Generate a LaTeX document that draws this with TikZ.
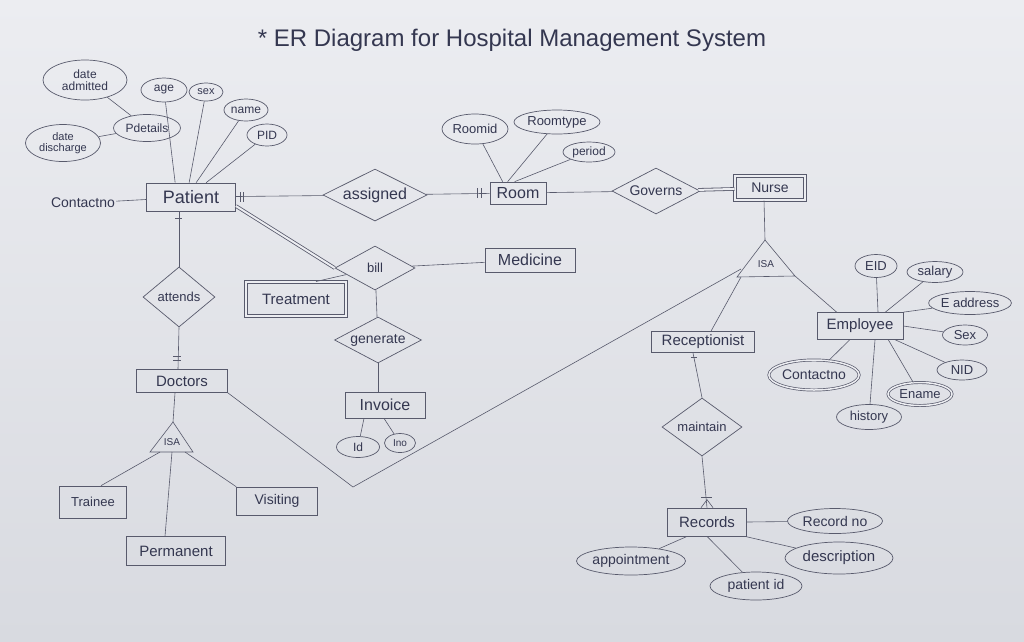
\documentclass[tikz,border=0pt]{standalone}
\usepackage{fontspec}
\setmainfont{Liberation Sans}
\usetikzlibrary{shapes.geometric,calc}
\definecolor{paperTop}{RGB}{236,237,241}
\definecolor{paperBot}{RGB}{216,218,224}
\definecolor{ln}{RGB}{88,90,108}
\definecolor{tx}{RGB}{52,55,80}
\newcommand\fsz[1]{\fontsize{#1}{#1}\selectfont}
\tikzset{
  ent/.style={draw=ln, rectangle, inner sep=1pt, text=tx, line width=0.7pt, font=\fsz{15}},
  attr/.style={draw=ln, ellipse, inner sep=0pt, text=tx, line width=0.7pt, font=\fsz{12}},
  rel/.style={draw=ln, diamond, aspect=2, inner sep=0pt, text=tx, line width=0.7pt, font=\fsz{13}},
  dblent/.style={draw=ln, line width=1pt, double=paperTop, double distance=2pt},
  dbl/.style={draw=ln, double=paperTop, double distance=2pt, line width=0.8pt},
  plain/.style={text=tx, inner sep=1pt},
  conn/.style={draw=ln, line width=0.6pt}
}
\begin{document}
\begin{tikzpicture}[x=1pt,y=-1pt]
\shade[top color=paperTop,bottom color=paperBot] (0,0) rectangle (1024,641);
\useasboundingbox (0,0) rectangle (1024,641);

% title
\node[plain, font=\fsz{24}] (title) at (512,40) {* ER Diagram for Hospital Management System};

% Patient cluster
\node[ent, minimum width=89pt, minimum height=28pt, font=\fsz{18}] (patient) at (191,197) {Patient};
\node[attr, minimum width=84pt, minimum height=40pt, align=center] (dadm) at (85,80) {date\\admitted};
\node[attr, minimum width=75pt, minimum height=37pt, align=center, font=\fsz{11}] (ddis) at (63,143) {date\\discharge};
\node[attr, minimum width=67pt, minimum height=27pt] (pdet) at (147,128) {Pdetails};
\node[attr, minimum width=46pt, minimum height=24pt] (age) at (164,90) {age};
\node[attr, minimum width=34pt, minimum height=18pt, font=\fsz{11}] (psex) at (206,92) {sex};
\node[attr, minimum width=44pt, minimum height=22pt] (pname) at (246,110) {name};
\node[attr, minimum width=40pt, minimum height=22pt] (pid) at (267,135) {PID};
\node[plain, font=\fsz{14}] (pcontact) at (83,203) {Contactno};

\draw[conn] (dadm) -- (pdet);
\draw[conn] (ddis) -- (pdet);
\draw[conn] (age) -- ([xshift=29pt]patient.north west);
\draw[conn] (psex) -- ([xshift=43pt]patient.north west);
\draw[conn] (pname) -- ([xshift=50pt]patient.north west);
\draw[conn] (pid) -- ([xshift=60pt]patient.north west);
\draw[conn] (pcontact) -- (patient);

% Room cluster
\node[ent, minimum width=56pt, minimum height=22pt, font=\fsz{16}] (room) at (518,193) {Room};
\node[attr, minimum width=66pt, minimum height=30pt, font=\fsz{13}] (roomid) at (475,129) {Roomid};
\node[attr, minimum width=86pt, minimum height=24pt, font=\fsz{13}] (roomtype) at (557,122) {Roomtype};
\node[attr, minimum width=52pt, minimum height=20pt] (period) at (589,152) {period};
\draw[conn] (roomid) -- ([xshift=13pt]room.north west);
\draw[conn] (roomtype) -- ([xshift=18pt]room.north west);
\draw[conn] (period) -- ([xshift=25pt]room.north west);

% assigned
\node[rel, minimum width=104pt, minimum height=52pt, font=\fsz{16}] (assigned) at (375,195) {assigned};
\draw[conn] (patient) -- (assigned);
\draw[conn] (assigned) -- (room);
\draw[conn] ($(patient.east)+(4,-5)$) -- ($(patient.east)+(4,5)$);
\draw[conn] ($(patient.east)+(7,-5)$) -- ($(patient.east)+(7,5)$);
\draw[conn] ($(room.west)+(-12,-5)$) -- ($(room.west)+(-12,5)$);
\draw[conn] ($(room.west)+(-8,-5)$) -- ($(room.west)+(-8,5)$);

% Governs / Nurse
\node[rel, minimum width=88pt, minimum height=46pt, font=\fsz{14}] (governs) at (656,191) {Governs};
\node[ent, dblent, minimum width=70pt, minimum height=24pt, font=\fsz{14}] (nurse) at (770,188) {Nurse};
\draw[conn] (room) -- (governs);
\draw[dbl] (governs) -- (nurse);

% bill / Medicine / Treatment
\node[rel, minimum width=80pt, minimum height=44pt] (bill) at (375,268) {bill};
\node[ent, minimum width=90pt, minimum height=24pt, font=\fsz{16}] (medicine) at (530,260) {Medicine};
\node[ent, dblent, minimum width=100pt, minimum height=34pt, font=\fsz{15}] (treat) at (296,299) {Treatment};
\draw[conn] (bill) -- (medicine);
\draw[dbl] ($(patient.east)+(0,9)$) -- (bill.west);
\draw[conn] ($(treat.north)+(20,0)$) -- (bill);

% generate / Invoice
\node[rel, minimum width=87pt, minimum height=46pt, font=\fsz{14}] (generate) at (378,340) {generate};
\node[ent, minimum width=80pt, minimum height=26pt, font=\fsz{16}] (invoice) at (385,405) {Invoice};
\node[attr, minimum width=43pt, minimum height=21pt] (iid) at (358,447) {Id};
\node[attr, minimum width=31pt, minimum height=19pt, font=\fsz{10}] (ino) at (400,443) {Ino};
\draw[conn] (bill) -- (generate);
\draw[conn] (generate.south) -- ($(invoice.north)+(-7,0)$);
\draw[conn] ($(invoice.south)+(-21,0)$) -- (iid);
\draw[conn] ($(invoice.south)+(-1,0)$) -- (ino);

% attends / Doctors
\node[rel, minimum width=72pt, minimum height=60pt] (attends) at (179,297) {attends};
\node[ent, minimum width=91pt, minimum height=23pt] (doctors) at (182,381) {Doctors};
\draw[conn] ($(patient.south)+(-12,0)$) -- (attends.north);
\draw[conn] (175,218) -- (182,218);
\draw[conn] (attends.south) -- ($(doctors.north)+(-4,0)$);
\draw[conn] (173,356) -- (181,356);
\draw[conn] (173,360) -- (181,360);

% ISA (doctors)
\coordinate (i1a) at (173,422);
\coordinate (i1l) at (150,452);
\coordinate (i1r) at (193,452);
\draw[conn] (i1a) -- (i1l) -- (i1r) -- cycle;
\node[plain, font=\fsz{10}] (isa1) at (172,442) {ISA};
\coordinate (i1b1) at (160,452);
\coordinate (i1b2) at (172,452);
\coordinate (i1b3) at (185,452);
\draw[conn] ($(doctors.south)+(-7,0)$) -- (i1a);
\node[ent, minimum width=67pt, minimum height=32pt, font=\fsz{13}] (trainee) at (93,502) {Trainee};
\node[ent, minimum width=99pt, minimum height=29pt] (permanent) at (176,551) {Permanent};
\node[ent, minimum width=81pt, minimum height=28pt, font=\fsz{14}] (visiting) at (277,501) {Visiting};
\draw[conn] (i1b1) -- ($(trainee.north)+(8,0)$);
\draw[conn] (i1b2) -- ($(permanent.north)+(-11,0)$);
\draw[conn] (i1b3) -- (visiting.north west);

% ISA (nurse)
\coordinate (i2a) at (765,240);
\coordinate (i2l) at (737,277);
\coordinate (i2r) at (795,276);
\draw[conn] (i2a) -- (i2l) -- (i2r) -- cycle;
\node[plain, font=\fsz{10}] (isa2) at (766,264) {ISA};
\coordinate (i2b1) at (741,277);
\coordinate (i2side) at (741,269);
\coordinate (bend) at (353,487);
\draw[conn] ($(nurse.south)+(-6,0)$) -- (i2a);
\draw[conn] (doctors.south east) -- (bend) -- (i2side);

% Receptionist / maintain / Records
\node[ent, minimum width=103pt, minimum height=21pt] (recep) at (703,342) {Receptionist};
\draw[conn] (i2b1) -- ($(recep.north)+(8,0)$);
\node[rel, minimum width=80pt, minimum height=58pt] (maintain) at (702,427) {maintain};
\draw[conn] ($(recep.south)+(-10,0)$) -- (maintain.north);
\draw[conn] (691,357) -- (697,357);
\node[ent, minimum width=79pt, minimum height=28pt] (records) at (707,522) {Records};
\draw[conn] (maintain.south) -- (records.north);
\draw[conn] (701,497) -- (712,497);
\draw[conn] ($(records.north)+(0,-8)$) -- ($(records.north)+(-6,0)$);
\draw[conn] ($(records.north)+(0,-8)$) -- ($(records.north)+(6,0)$);
\node[attr, minimum width=95pt, minimum height=25pt, font=\fsz{14}] (recno) at (835,521) {Record no};
\node[attr, minimum width=108pt, minimum height=32pt, font=\fsz{15}] (desc) at (839,558) {description};
\node[attr, minimum width=92pt, minimum height=28pt, font=\fsz{14}] (ptid) at (756,586) {patient id};
\node[attr, minimum width=108pt, minimum height=28pt, font=\fsz{14}] (appt) at (631,561) {appointment};
\draw[conn] (recno) -- (records.east);
\draw[conn] (desc) -- ($(records.south east)+(-2,0)$);
\draw[conn] (ptid) -- (records.south);
\draw[conn] (appt) -- ($(records.south west)+(20,0)$);

% Employee cluster
\node[ent, minimum width=86pt, minimum height=27pt] (employee) at (860,326) {Employee};
\draw[conn] (i2r) -- ($(employee.north west)+(20,0)$);
\node[attr, minimum width=42pt, minimum height=23pt, font=\fsz{13}] (eid) at (876,266) {EID};
\node[attr, minimum width=56pt, minimum height=21pt, font=\fsz{13}] (salary) at (935,272) {salary};
\node[attr, minimum width=80pt, minimum height=23pt, font=\fsz{13}] (eaddr) at (970,303) {E address};
\node[attr, minimum width=45pt, minimum height=20pt, font=\fsz{13}] (esex) at (965,335) {Sex};
\node[attr, minimum width=50pt, minimum height=20pt, font=\fsz{13}] (nid) at (962,370) {NID};
\node[attr, double=paperTop, double distance=1.5pt, minimum width=64pt, minimum height=23pt, font=\fsz{13}] (ename) at (920,394) {Ename};
\node[attr, minimum width=65pt, minimum height=25pt, font=\fsz{13}] (history) at (869,417) {history};
\node[attr, double=paperTop, double distance=1.5pt, minimum width=90pt, minimum height=30pt, font=\fsz{14}] (econtact) at (814,375) {Contactno};
\draw[conn] (eid) -- ($(employee.north)+(18,0)$);
\draw[conn] (salary) -- ($(employee.north east)+(-18,0)$);
\draw[conn] (eaddr) -- (employee.north east);
\draw[conn] (esex) -- (employee.east);
\draw[conn] (nid) -- ($(employee.south east)+(-8,0)$);
\draw[conn] (ename) -- ($(employee.south east)+(-15,0)$);
\draw[conn] (history) -- ($(employee.south)+(15,0)$);
\draw[conn] (econtact) -- ($(employee.south west)+(33,0)$);
\end{tikzpicture}
\end{document}
